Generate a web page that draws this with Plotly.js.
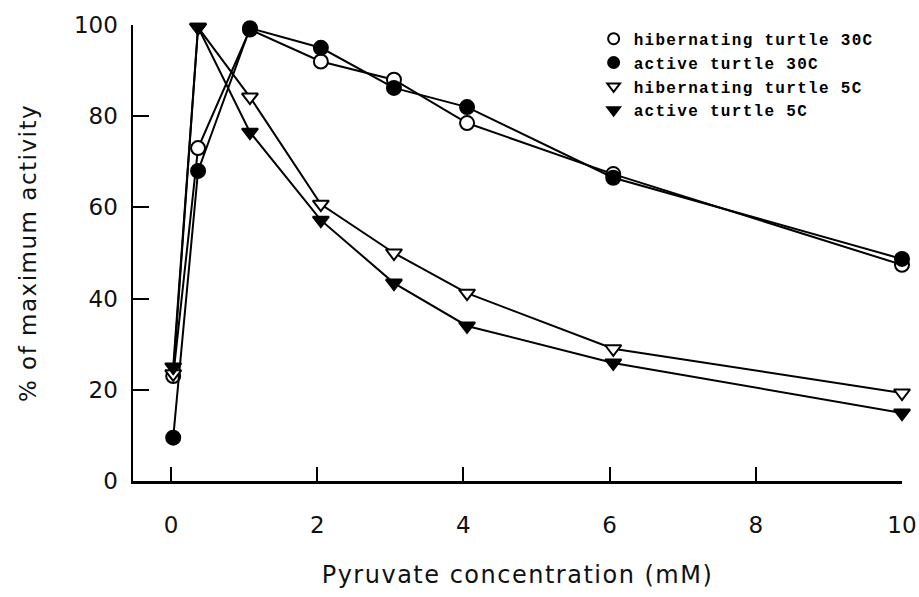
<!DOCTYPE html>
<html>
<head>
<meta charset="utf-8">
<script src="https://cdn.plot.ly/plotly-3.0.1.min.js"></script>
<style>
html,body{margin:0;padding:0;background:#fff;}
#chart{width:919px;height:597px;}
#chart .xtitle, #chart .ytitle{letter-spacing:1.5px;}
#chart .legendtext{letter-spacing:1.3px;}
#chart .legend, #chart .legend *{clip-path:none !important;}
</style>
</head>
<body>
<div id="chart"></div>
<script>
// Pyruvate concentration (mM)
const pyruvate = [0.03, 0.37, 1.08, 2.05, 3.05, 4.05, 6.05, 10];
// % of maximum activity
const hibernating30C = [23, 73, 99, 92, 88, 78.5, 67.3, 47.4];
const active30C      = [9.5, 68, 99.3, 95, 86.2, 82, 66.5, 48.7];
const hibernating5C  = [23.5, 99.5, 84.2, 60.7, 50, 41.2, 29, 19.3];
const active5C       = [25, 99.5, 76.5, 57.2, 43.4, 34, 25.9, 14.9];
const seriesNames = ["hibernating turtle 30C", "active turtle 30C", "hibernating turtle 5C", "active turtle 5C"];
const xTicks = [0, 2, 4, 6, 8, 10];
const yTicks = [0, 20, 40, 60, 80, 100];

const seriesData = [hibernating30C, active30C, hibernating5C, active5C];
const symbols = ["circle", "circle", "triangle-down", "triangle-down"];
const fills = ["#fff", "#000", "#fff", "#000"];

const traces = [];
seriesData.forEach((ys, i) => {
  traces.push({
    x: pyruvate, y: ys, mode: "lines+markers", type: "scatter",
    name: seriesNames[i], showlegend: false, cliponaxis: false,
    line: {color: "#000", width: 2},
    marker: {symbol: symbols[i], size: 14, color: fills[i],
             line: {color: "#000", width: 2}}
  });
});
// legend entries (markers only)
seriesData.forEach((ys, i) => {
  traces.push({
    x: [null], y: [null], mode: "markers", type: "scatter",
    name: seriesNames[i], showlegend: true,
    marker: {symbol: symbols[i], size: 11, color: fills[i],
             line: {color: "#000", width: 2}}
  });
});

const tickFont = {family: "DejaVu Sans, sans-serif", size: 23, color: "#111"};
const layout = {
  width: 919, height: 597,
  margin: {l: 133, r: 17, t: 25, b: 116},
  paper_bgcolor: "#fff", plot_bgcolor: "#fff",
  showlegend: true,
  legend: {
    x: 0.599, y: 1.007, xanchor: "left", yanchor: "top",
    font: {family: "Liberation Mono, monospace", size: 16, color: "#000", weight: "bold"},
    bgcolor: "rgba(0,0,0,0)", tracegroupgap: 0, itemwidth: 30
  },
  xaxis: {
    range: [-0.52, 10], tickvals: xTicks, ticktext: xTicks.map(String),
    ticks: "inside", ticklen: 14, tickwidth: 2, tickcolor: "#000",
    showline: true, linecolor: "#000", linewidth: 2.5, showgrid: false, zeroline: false,
    tickfont: tickFont, ticklabelstandoff: 22,
    title: {text: "Pyruvate concentration (mM)", font: {family: "DejaVu Sans, sans-serif", size: 24, color: "#111"}, standoff: 29}
  },
  yaxis: {
    range: [0, 100], tickvals: yTicks, ticktext: yTicks.map(String),
    ticks: "inside", ticklen: 16, tickwidth: 2, tickcolor: "#000",
    showline: true, linecolor: "#000", linewidth: 2.5, showgrid: false, zeroline: false,
    tickfont: tickFont, ticklabelstandoff: 8,
    title: {text: "% of maximum activity", font: {family: "DejaVu Sans, sans-serif", size: 23, color: "#111"}, standoff: 31}
  }
};

Plotly.newPlot("chart", traces, layout, {displayModeBar: false, staticPlot: true});
</script>
</body>
</html>
